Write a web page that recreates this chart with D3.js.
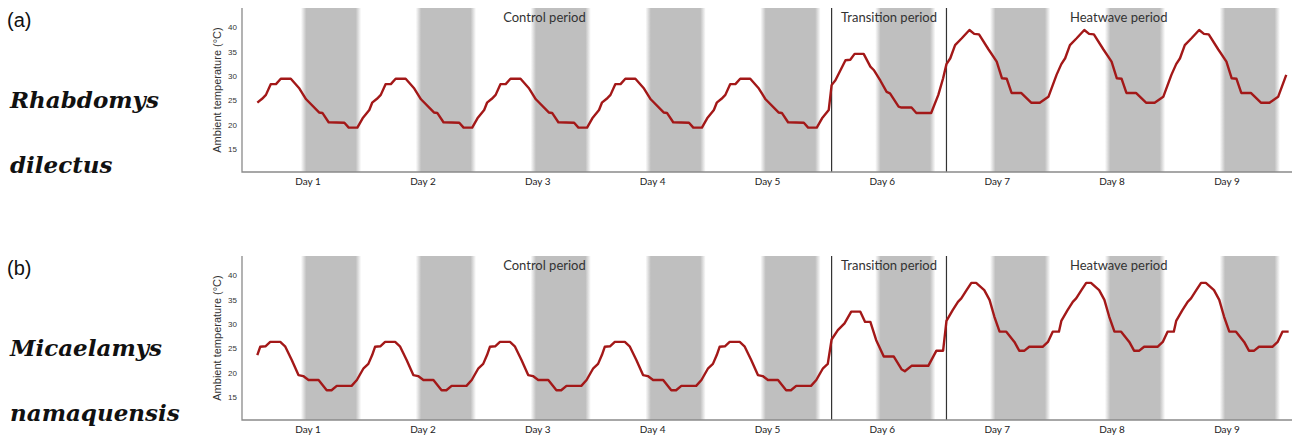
<!DOCTYPE html>
<html>
<head>
<meta charset="utf-8">
<script src="https://cdn.jsdelivr.net/npm/d3@7"></script>
<style>
body{margin:0;background:#fff;}
svg{display:block;}
</style>
</head>
<body>
<div id="chart"></div>
<script>
// schedule of the 9 recording days
var dayKinds = ['control','control','control','control','control','transition','heatwave','heatwave','heatwave'];
var dayLabels = ['Day 1','Day 2','Day 3','Day 4','Day 5','Day 6','Day 7','Day 8','Day 9'];
var yTicks = [15,20,25,30,35,40];
var periodNames = ['Control period','Transition period','Heatwave period'];
var periodDays = [[0,5],[5,6],[6,9]];
var nightHours = [9.1,21.7];   // lights off / on, hours after start of each day
var dayLabelHour = 10.5;

// [hours after start of day, ambient temperature °C]
var rhabdomysControl = [[0,24.5],[1.0,25.3],[1.8,26.1],[2.8,28.3],[3.9,28.3],[4.9,29.4],[7.0,29.4],[8.8,27.4],
	[10.2,25.2],[12.9,22.5],[13.6,22.4],[14.9,20.5],[18.2,20.4],[19.1,19.4],[20.9,19.4],[22.0,21.3],[23.4,23.0]];
var rhabdomysTransition = [[0,28.1],[0.8,29.1],[2.9,33.2],[3.9,33.3],[4.8,34.5],[6.7,34.5],[8.1,31.9],[8.8,31.2],
	[10.2,29.0],[11.5,26.7],[12.2,26.4],[14.0,23.7],[14.6,23.5],[16.7,23.5],[17.7,22.4],[20.8,22.4],[22.3,26.1],[23.3,29.5]];
var rhabdomysHeatwave = [[0,32.4],[0.8,33.6],[1.8,36.3],[3.2,37.7],[4.8,39.4],[5.8,38.6],[6.8,38.5],[8.8,35.4],
	[10.5,32.9],[11.6,29.5],[12.6,29.4],[13.6,26.5],[15.6,26.5],[17.7,24.5],[19.5,24.5],[21.3,25.7],[23.0,30.2]];

var micaelamysControl = [[0,23.6],[0.6,25.3],[1.7,25.4],[2.7,26.3],[4.8,26.3],[5.8,25.4],[7.2,22.6],[8.6,19.5],
	[9.6,19.3],[10.7,18.5],[12.8,18.5],[14.5,16.4],[15.5,16.4],[16.6,17.3],[19.7,17.3],[20.8,18.5],[22.2,20.9],[23.2,21.8]];
var micaelamysTransition = [[0,26.8],[1.3,28.7],[2.7,30.1],[4.1,32.5],[6.0,32.5],[7.0,30.4],[8.1,30.4],[9.3,26.7],
	[10.9,23.3],[13.0,23.3],[14.6,20.7],[15.3,20.3],[16.7,21.4],[20.2,21.4],[21.9,24.5],[23.3,24.5]];
var micaelamysHeatwave = [[0,30.6],[1.3,32.8],[2.4,34.5],[3.1,35.2],[4.2,36.9],[5.2,38.4],[6.2,38.4],[7.9,36.9],
	[9.0,34.9],[10.0,31.5],[11.1,28.4],[12.5,28.4],[14.2,26.3],[15.2,24.5],[16.3,24.5],[17.3,25.3],[20.1,25.3],
	[21.2,26.3],[22.2,28.4],[23.5,28.4]];

var panels = [
	{letter:'(a)', genus:'Rhabdomys', species:'dilectus',
		profiles:{control:rhabdomysControl, transition:rhabdomysTransition, heatwave:rhabdomysHeatwave}},
	{letter:'(b)', genus:'Micaelamys', species:'namaquensis',
		profiles:{control:micaelamysControl, transition:micaelamysTransition, heatwave:micaelamysHeatwave}}
];

var W = 1299, H = 437;
var plot = {left:242, right:1292, top:8, bottom:172};
var panelShift = 248;
var sans = '"Liberation Sans", Arial, sans-serif';
var humanist = 'Lato, "Open Sans", sans-serif';

var x = d3.scaleLinear().domain([-3.2, 216.2]).range([plot.left, plot.right]);
var y = d3.scaleLinear().domain([10.3, 43.9]).range([plot.bottom, plot.top]);

function buildSeries(profiles){
	// stitch the daily profiles together into one continuous trace
	var pts = [];
	for (var k=0,tot=dayKinds.length;k<tot;k++){
		profiles[dayKinds[k]].forEach(function(p){
			pts.push({h:24*k+p[0], t:p[1]});
		});
	}
	return pts;
}

function createSvg(id){
	return d3.select(id)
		.append('svg')
		.attr('width',W)
		.attr('height',H);
}

function makeGradient(svg){
	var grad = svg.append('defs')
		.append('linearGradient')
		.attr('id','nightFade');
	[[0,0],[0.09,1],[0.91,1],[1,0]].forEach(function(s){
		grad.append('stop')
			.attr('offset',s[0])
			.attr('stop-color','#bfbfbf')
			.attr('stop-opacity',s[1]);
	});
}

function makeBands(g){
	return g.selectAll('.night')
		.data(dayKinds).enter()
		.append('rect')
			.attr('class','night')
			.attr('x',function(d,i){return x(24*i+nightHours[0]);})
			.attr('width',function(d,i){return x(24*i+nightHours[1])-x(24*i+nightHours[0]);})
			.attr('y',plot.top)
			.attr('height',plot.bottom-plot.top)
			.attr('fill','url(#nightFade)');
}

function makePeriods(g){
	// dividers at the start of the transition and heatwave periods
	g.selectAll('.divider')
		.data(periodDays.slice(1)).enter()
		.append('line')
			.attr('class','divider')
			.attr('x1',function(d){return x(24*d[0]);})
			.attr('x2',function(d){return x(24*d[0]);})
			.attr('y1',plot.top)
			.attr('y2',plot.bottom)
			.attr('stroke','#333')
			.attr('stroke-width',1.2);
	return g.selectAll('.period')
		.data(periodNames).enter()
		.append('text')
			.attr('class','period')
			.attr('x',function(d,i){return x(12*(periodDays[i][0]+periodDays[i][1]));})
			.attr('y',22)
			.attr('text-anchor','middle')
			.attr('font-family',humanist)
			.attr('font-size',13)
			.attr('fill','#333')
			.text(function(d){return d;});
}

function makeAxes(g){
	var ya = g.append('g')
		.attr('transform','translate('+plot.left+',0)')
		.call(d3.axisLeft(y).tickValues(yTicks).tickSize(0).tickPadding(5));
	ya.select('.domain').remove();
	ya.selectAll('text')
		.attr('font-family',sans)
		.attr('font-size',8)
		.attr('fill','#333');

	var xa = g.append('g')
		.attr('transform','translate(0,'+plot.bottom+')')
		.call(d3.axisBottom(x)
			.tickValues(dayLabels.map(function(d,i){return 24*i+dayLabelHour;}))
			.tickFormat(function(d,i){return dayLabels[i];})
			.tickSize(0).tickPadding(6));
	xa.select('.domain').remove();
	xa.selectAll('text')
		.attr('font-family',humanist)
		.attr('font-size',10)
		.attr('fill','#222');

	g.append('path')
		.attr('d','M'+plot.left+','+plot.top+'V'+plot.bottom+'H'+plot.right)
		.attr('fill','none')
		.attr('stroke','#8a8a8a')
		.attr('stroke-width',1.3);

	g.append('text')
		.attr('transform','translate(221,'+(plot.top+plot.bottom)/2+') rotate(-90)')
		.attr('text-anchor','middle')
		.attr('font-family',sans)
		.attr('font-size',11)
		.attr('fill','#333')
		.text('Ambient temperature (\u00B0C)');
}

function makeCurve(g,series){
	var line = d3.line()
		.x(function(d){return x(d.h);})
		.y(function(d){return y(d.t);});
	return g.append('path')
		.datum(series)
		.attr('d',line)
		.attr('fill','none')
		.attr('stroke','#a31818')
		.attr('stroke-width',2.4)
		.attr('stroke-linejoin','round');
}

function makeNames(g,p){
	g.append('text')
		.attr('x',7).attr('y',27)
		.attr('font-family',sans)
		.attr('font-size',20)
		.attr('fill','#111')
		.text(p.letter);
	g.selectAll('.taxon')
		.data([p.genus,p.species]).enter()
		.append('text')
			.attr('class','taxon')
			.attr('x',10)
			.attr('y',function(d,i){return i==0 ? 108 : 173;})
			.attr('font-family','"DejaVu Serif", serif')
			.attr('font-weight','bold')
			.attr('font-style','italic')
			.attr('font-size',23)
			.attr('fill','#111')
			.text(function(d){return d;});
}

var svg = createSvg('#chart');
makeGradient(svg);
panels.forEach(function(p,i){
	var g = svg.append('g').attr('transform','translate(0,'+(i*panelShift)+')');
	makeBands(g);
	makePeriods(g);
	makeAxes(g);
	makeCurve(g,buildSeries(p.profiles));
	makeNames(g,p);
});
</script>
</body>
</html>
